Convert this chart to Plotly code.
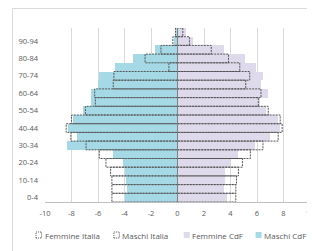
import plotly.graph_objects as go

# ---- data (percent of population by age group) ----
age_labels = ['0-4', '5-9', '10-14', '15-19', '20-24', '25-29', '30-34', '35-39',
              '40-44', '45-49', '50-54', '55-59', '60-64', '65-69', '70-74',
              '75-79', '80-84', '85-89', '90-94', '95-99']
maschi_cdf = [-4.0, -3.8, -3.85, -4.0, -4.15, -4.9, -8.35, -7.6, -8.3, -7.9,
              -7.1, -6.5, -6.5, -6.0, -5.95, -4.7, -3.35, -1.7, -0.3, -0.12]
femmine_cdf = [3.7, 3.5, 3.55, 3.6, 3.95, 4.6, 5.85, 7.0, 7.7, 7.55,
               6.7, 6.2, 6.8, 6.3, 6.45, 5.9, 5.1, 3.5, 1.2, 0.65]
maschi_italia = [-4.95, -4.95, -4.95, -5.05, -5.4, -5.9, -6.9, -8.05, -8.4, -8.0,
                 -6.95, -6.2, -6.25, -4.85, -4.8, -0.65, -2.45, -1.25, -0.35, -0.15]
femmine_italia = [4.4, 4.4, 4.45, 4.6, 4.9, 5.5, 6.45, 7.6, 7.9, 7.75,
                  6.85, 6.1, 6.3, 5.15, 5.45, 4.7, 3.85, 2.55, 0.9, 0.4]
x_ticks = [-10, -8, -6, -4, -2, 0, 2, 4, 6, 8, 10]
series_names = ['Femmine Italia', 'Maschi Italia', 'Femmine CdF', 'Maschi CdF']

# ---- styles ----
COL_M = '#A5D9E6'
COL_F = '#DEDAEB'
COL_DASH = '#555555'
TXT = '#595959'
FONT = 'Open Sans, sans-serif'

# the page body adds an 8px margin; size the figure so it fills the window
OFF = 8
W, H = 315 - OFF, 251 - OFF
# plot area in window pixels
WL, WR, WT, WB = 45, 310.5, 28, 202
PL, PR, PT, PB = WL - OFF, WR - OFF, WT - OFF, WB - OFF


def px_x(px):
    """window pixel x -> paper x"""
    return (px - WL) / (WR - WL)


def px_y(py):
    """window pixel y -> paper y"""
    return (WB - py) / (WB - WT)


idx = list(range(len(age_labels)))

fig = go.Figure()
fig.add_trace(go.Bar(y=idx, x=femmine_cdf, orientation='h', width=1,
                     marker=dict(color=COL_F, line=dict(width=0)),
                     name=series_names[2], showlegend=False))
fig.add_trace(go.Bar(y=idx, x=maschi_cdf, orientation='h', width=1,
                     marker=dict(color=COL_M, line=dict(width=0)),
                     name=series_names[3], showlegend=False))


def outline(values):
    xs, ys = [], []
    for i, v in zip(idx, values):
        xs += [0, v, v, 0, None]
        ys += [i - 0.5, i - 0.5, i + 0.5, i + 0.5, None]
    return xs, ys


for vals, nm in [(femmine_italia, series_names[0]), (maschi_italia, series_names[1])]:
    xs, ys = outline(vals)
    fig.add_trace(go.Scatter(x=xs, y=ys, mode='lines', name=nm, showlegend=False,
                             line=dict(color=COL_DASH, width=1, dash='2px,1px'),
                             hoverinfo='skip'))

shapes = [
    # zero (category) axis line
    dict(type='line', xref='x', yref='paper', x0=0, x1=0, y0=0, y1=1,
         line=dict(color='#808080', width=1), layer='above'),
    # chart border (partly outside the window)
    dict(type='rect', xref='paper', yref='paper', x0=px_x(12.5), x1=px_x(340),
         y0=px_y(280), y1=px_y(8.5), line=dict(color='#d9d9d9', width=1),
         fillcolor='rgba(0,0,0,0)', layer='below'),
]

# manual legend
leg_y = 235
leg_items = [
    (series_names[0], 36, None),
    (series_names[1], 114, None),
    (series_names[2], 184, COL_F),
    (series_names[3], 256, COL_M),
]
annotations = []
for name, left, fill in leg_items:
    if fill is None:
        shapes.append(dict(type='rect', xref='paper', yref='paper',
                           x0=px_x(left), x1=px_x(left + 5.5),
                           y0=px_y(leg_y + 3), y1=px_y(leg_y - 3),
                           line=dict(color=COL_DASH, width=1, dash='1px,1px'),
                           fillcolor='rgba(0,0,0,0)'))
    else:
        shapes.append(dict(type='rect', xref='paper', yref='paper',
                           x0=px_x(left), x1=px_x(left + 6),
                           y0=px_y(leg_y + 3), y1=px_y(leg_y - 3),
                           line=dict(width=0), fillcolor=fill))
    annotations.append(dict(xref='paper', yref='paper', x=px_x(left + 6.5), y=px_y(leg_y),
                            xanchor='left', yanchor='middle', text=name, showarrow=False,
                            font=dict(family=FONT, size=8, color=TXT)))

fig.update_layout(
    width=W, height=H,
    margin=dict(l=PL, r=W - PR, t=PT, b=H - PB),
    paper_bgcolor='white', plot_bgcolor='white',
    barmode='overlay', bargap=0,
    showlegend=False,
    font=dict(family=FONT, size=8, color=TXT),
    xaxis=dict(range=[-10, 10], tickvals=x_ticks, ticktext=[str(t) for t in x_ticks],
               showgrid=True, gridcolor='#d9d9d9', gridwidth=1, zeroline=False,
               showline=True, linecolor='#bfbfbf', linewidth=1, ticks='',
               ticklabelstandoff=4, ticklabeloverflow='allow',
               tickfont=dict(family=FONT, size=7.5, color=TXT),
               automargin=False, fixedrange=True),
    yaxis=dict(range=[-0.5, len(age_labels) - 0.5], tickvals=idx[::2],
               ticktext=age_labels[::2], showgrid=False, zeroline=False,
               showline=False, ticks='', ticklabelstandoff=6,
               tickfont=dict(family=FONT, size=7.5, color=TXT),
               automargin=False, fixedrange=True),
    shapes=shapes,
    annotations=annotations,
)

fig.write_html('out.html')
